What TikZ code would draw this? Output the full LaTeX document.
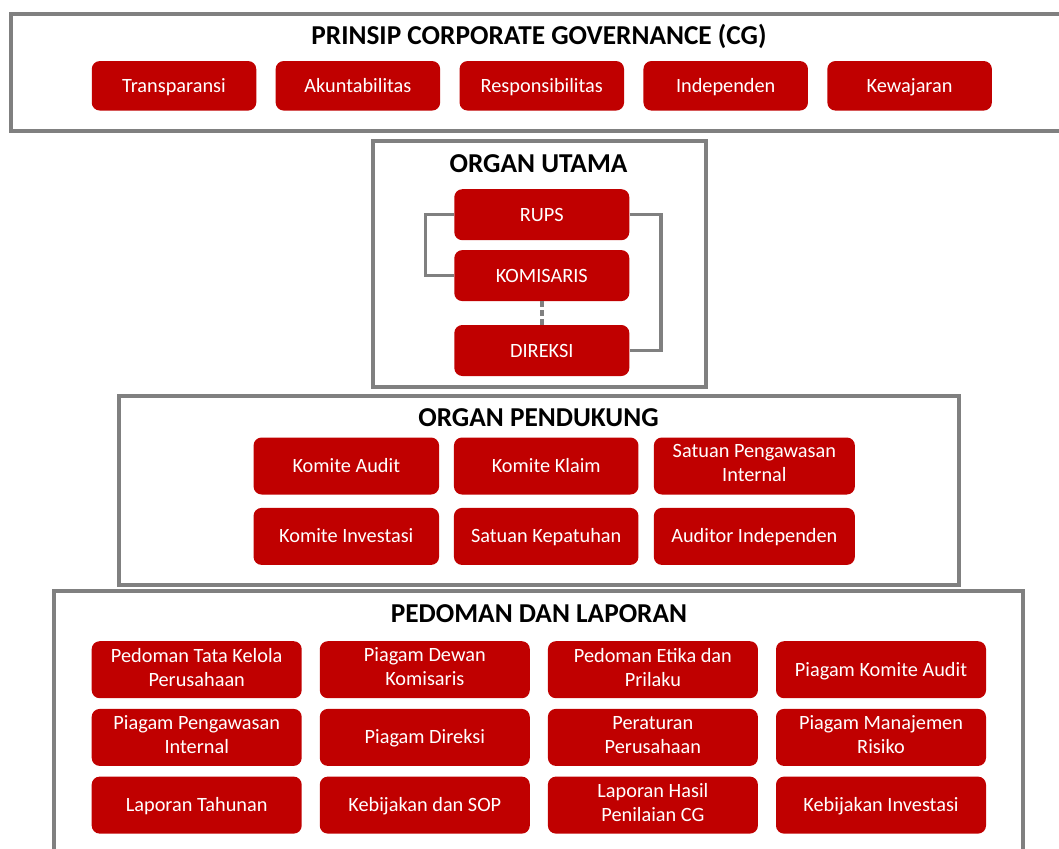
\documentclass[tikz,border=0pt]{standalone}
\usepackage{fontspec}
\setmainfont{Carlito}
\usetikzlibrary{positioning}
\definecolor{cgred}{HTML}{C00000}
\definecolor{cggray}{HTML}{808080}

\begin{document}
\begin{tikzpicture}
			[x=1pt, y=-1pt, node distance=19pt,
			box/.style = {fill=cgred, text=white, rounded corners=8pt, align=center, inner sep=2pt, font=\fontsize{20.3}{24}\selectfont, execute at begin node=\rule[-5.5pt]{0pt}{24pt}, execute at end node=\rule[-5.5pt]{0pt}{24pt}},
			prin/.style = {box, minimum width=164.5pt, minimum height=49.5pt},
			organ/.style = {box, minimum width=175pt, minimum height=51pt},
			pend/.style = {box, minimum height=57pt},
			doc/.style = {box, minimum width=210pt, minimum height=57pt},
			frame/.style = {draw=cggray, line width=4pt},
			title/.style = {anchor=base, font=\fontsize{27.3}{31}\selectfont\bfseries},
			link/.style = {draw=cggray, line width=3.5pt}]
			\useasboundingbox (0,0) rectangle (1059,848);
			\clip (0,0) rectangle (1059,848);
			\draw[frame] (10.7,13.7) rectangle (1080,130.7);
			\draw[frame] (372.5,141) rectangle (706,386.7);
			\draw[frame] (118.7,395.8) rectangle (959.3,585);
			\draw[frame] (54.3,590.8) rectangle (1023,900);
			\node[title] (tp) at (539,44.3) {PRINSIP CORPORATE GOVERNANCE (CG)};
			\node[title] (tu) at (538.5,172.3) {ORGAN UTAMA};
			\node[title] (ts) at (538.5,426.7) {ORGAN PENDUKUNG};
			\node[title] (td) at (539,622.3) {PEDOMAN DAN LAPORAN};
			\node[prin] (p1) at (174,85.8) {Transparansi};
			\node[prin] (p2) [right=of p1] {Akuntabilitas};
			\node[prin] (p3) [right=of p2] {Responsibilitas};
			\node[prin] (p4) [right=of p3] {Independen};
			\node[prin] (p5) [right=of p4] {Kewajaran};
			\node[organ] (u1) at (541.8,214.7) {RUPS};
			\node[organ] (u2) [below=9.5pt of u1] {KOMISARIS};
			\node[organ] (u3) [below=23.5pt of u2] {DIREKSI};
			\draw[link] (u1.west) -- ++(-28.6,0) |- (u2.west);
			\draw[link] (u1.east) -- ++(31.7,0) |- (u3.east);
			\draw[link, dash pattern=on 6pt off 3pt] (u2) -- (u3);
			\node[pend, minimum width=185.5pt] (s1) at (346.3,466) {Komite Audit};
			\node[pend, minimum width=184.5pt] (s2) [right=14.5pt of s1] {Komite Klaim};
			\node[pend, minimum width=201pt] (s3) [right=15pt of s2] {Satuan Pengawasan\\Internal};
			\node[pend, minimum width=185.5pt] (s4) [below=13pt of s1] {Komite Investasi};
			\node[pend, minimum width=184.5pt] (s5) [below=13pt of s2] {Satuan Kepatuhan};
			\node[pend, minimum width=201pt] (s6) [below=13pt of s3] {Auditor Independen};
			\node[doc] (d1) at (196.7,669.7) {Pedoman Tata Kelola\\Perusahaan};
			\node[doc] (d2) [right=17.7pt of d1] {Piagam Dewan\\Komisaris};
			\node[doc] (d3) [right=17.7pt of d2] {Pedoman Etika dan\\Prilaku};
			\node[doc] (d4) [right=17.7pt of d3] {Piagam Komite Audit};
			\node[doc] (d5) [below=10.3pt of d1] {Piagam Pengawasan\\Internal};
			\node[doc] (d6) [below=10.3pt of d2] {Piagam Direksi};
			\node[doc] (d7) [below=10.3pt of d3] {Peraturan\\Perusahaan};
			\node[doc] (d8) [below=10.3pt of d4] {Piagam Manajemen\\Risiko};
			\node[doc] (d9) [below=10.3pt of d5] {Laporan Tahunan};
			\node[doc] (d10) [below=10.3pt of d6] {Kebijakan dan SOP};
			\node[doc] (d11) [below=10.3pt of d7] {Laporan Hasil\\Penilaian CG};
			\node[doc] (d12) [below=10.3pt of d8] {Kebijakan Investasi};
		\end{tikzpicture}
\end{document}
